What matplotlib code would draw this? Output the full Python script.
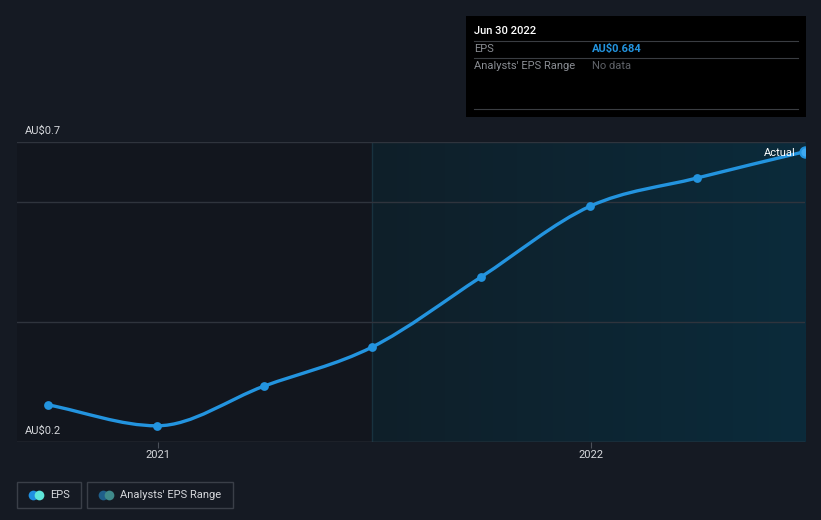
import matplotlib
matplotlib.use("Agg")
import matplotlib.pyplot as plt
import matplotlib.dates as mdates
from matplotlib.path import Path
from matplotlib.patches import PathPatch, Rectangle
import numpy as np
import datetime as dt

plt.rcParams["font.family"] = ["Roboto", "DejaVu Sans"]

# ── Data ──────────────────────────────────────────────────────────────────────
dates = ["2020-09-30", "2020-12-31", "2021-03-31", "2021-06-30",
         "2021-09-30", "2021-12-31", "2022-03-31", "2022-06-30"]
eps = [0.262, 0.227, 0.293, 0.358, 0.475, 0.593, 0.640, 0.684]
y_ticks = [0.2, 0.4, 0.6, 0.7]
y_labels = {0.2: "AU$0.2", 0.7: "AU$0.7"}
x_ticks = ["2021-01-01", "2022-01-01"]
x_tick_labels = ["2021", "2022"]
forecast_start = "2021-06-30"

# ── Palette ───────────────────────────────────────────────────────────────────
BG = "#151a23"
BG_PAST = "#12161e"
C_LINE = "#2394df"
C_GRID = "#2f343d"
C_AXIS = "#4b5059"
C_TEXT = "#d6d8dc"
C_MUTED = "#8a8d93"

W, H = 821, 520
fig = plt.figure(figsize=(W / 100, H / 100), dpi=100, facecolor=BG)
ax = fig.add_axes([17 / W, 78 / H, 788 / W, 300 / H])
ax.set_facecolor(BG)

x = mdates.date2num([dt.date.fromisoformat(d) for d in dates])
y = np.array(eps)
x_start = mdates.date2num(dt.date(2020, 9, 4))
x_end = x[-1]
x_fc = mdates.date2num(dt.date.fromisoformat(forecast_start))
ax.set_xlim(x_start, x_end)
ax.set_ylim(0.2, 0.7)

# background regions
ax.axvspan(x_start, x_fc, color=BG_PAST, zorder=0, lw=0)
grad = np.linspace(0, 1, 256).reshape(1, -1)
cmap = matplotlib.colors.LinearSegmentedColormap.from_list(
    "g", ["#0f1f29", "#0b2b3b"])
ax.imshow(grad, extent=[x_fc, x_end, 0.2, 0.7], aspect="auto",
          cmap=cmap, zorder=0.5)
ax.axvline(x_fc, color="#18323f", lw=1, zorder=1)

# gridlines
for t in y_ticks:
    ax.axhline(t, color=C_GRID if t != 0.2 else C_AXIS, lw=1, zorder=1)

# smooth monotone curve (bezier control points)
n = len(x)
dx = np.diff(x)
sl = np.diff(y) / dx
m = np.zeros(n)
m[0], m[-1] = sl[0], sl[-1]
for i in range(1, n - 1):
    if sl[i - 1] * sl[i] <= 0:
        m[i] = 0
    else:
        m[i] = (sl[i - 1] * dx[i] + sl[i] * dx[i - 1]) / (dx[i - 1] + dx[i])
        lim = 3 * min(abs(sl[i - 1]), abs(sl[i]))
        m[i] = np.sign(m[i]) * min(abs(m[i]), lim)
verts = [(x[0], y[0])]
codes = [Path.MOVETO]
for i in range(n - 1):
    h = dx[i] / 3
    verts += [(x[i] + h, y[i] + m[i] * h), (x[i + 1] - h, y[i + 1] - m[i + 1] * h),
              (x[i + 1], y[i + 1])]
    codes += [Path.CURVE4] * 3
ax.add_patch(PathPatch(Path(verts, codes), fc="none", ec=C_LINE, lw=2.4,
                       zorder=3, capstyle="round"))
ax.scatter(x[:-1], y[:-1], s=40, color=C_LINE, zorder=4, lw=0)
ax.scatter(x[-1:], y[-1:], s=55, facecolor="#3fa9f0", edgecolor=C_LINE,
           lw=1.5, zorder=4, clip_on=True)
ax.text(x[-1] - 8, y[-1] - 0.003, "Actual", ha="right", va="center",
        fontsize=8, color="white", zorder=5)

# axes styling
for s in ax.spines.values():
    s.set_visible(False)
ax.set_yticks([])
ax.set_xticks(mdates.date2num([dt.date.fromisoformat(d) for d in x_ticks]))
ax.set_xticklabels(x_tick_labels, fontsize=8, color=C_TEXT)
ax.tick_params(axis="x", length=4, color=C_AXIS, pad=2)
for t, lbl in y_labels.items():
    ax.annotate(lbl, xy=(0, t), xycoords=("axes fraction", "data"),
                xytext=(6, 4), textcoords="offset points", ha="left",
                va="bottom", fontsize=8, color=C_TEXT)

# ── Tooltip ───────────────────────────────────────────────────────────────────
def fx(px):
    return px / W


def fy(py):
    return 1 - py / H


fig.patches.append(Rectangle((fx(466), fy(117)), fx(340), 101 / H,
                             transform=fig.transFigure, fc="black", ec="none"))
for py in [41, 58, 109]:
    fig.add_artist(plt.Line2D([fx(474), fx(798)], [fy(py), fy(py)],
                              color="#3a3d42", lw=0.8, transform=fig.transFigure))
fig.text(fx(474), fy(31), "Jun 30 2022", fontsize=8, color="white",
         va="center", ha="left", fontweight="medium")
fig.text(fx(474), fy(49), "EPS", fontsize=8, color=C_MUTED, va="center")
fig.text(fx(592), fy(49), "AU$0.684", fontsize=8, color=C_LINE,
         va="center", fontweight="bold")
fig.text(fx(474), fy(66), "Analysts' EPS Range", fontsize=8, color=C_MUTED,
         va="center")
fig.text(fx(592), fy(66), "No data", fontsize=8, color="#5f6268", va="center")

# ── Legend ────────────────────────────────────────────────────────────────────
legend_items = [("EPS", ["#1f8fe0", "#5ee6d9"], 17, 81),
                ("Analysts' EPS Range", ["#1f5f8a", "#3f8a8a"], 87, 233)]
for label, cols, x0, x1 in legend_items:
    fig.patches.append(Rectangle((fx(x0), fy(508)), (x1 - x0) / W, 26 / H,
                                 transform=fig.transFigure, fc="none",
                                 ec="#3a3f48", lw=1))
    fig.add_artist(plt.Line2D([fx(x0 + 16)], [fy(495)], marker="o", ms=7,
                              color=cols[0], mec="none",
                              transform=fig.transFigure))
    fig.add_artist(plt.Line2D([fx(x0 + 22)], [fy(495)], marker="o", ms=7,
                              color=cols[1], mec="none",
                              transform=fig.transFigure))
    fig.text(fx(x0 + 33), fy(495), label, fontsize=8, color=C_TEXT,
             va="center", ha="left")

fig.savefig("out.png", dpi=100, facecolor=BG)
